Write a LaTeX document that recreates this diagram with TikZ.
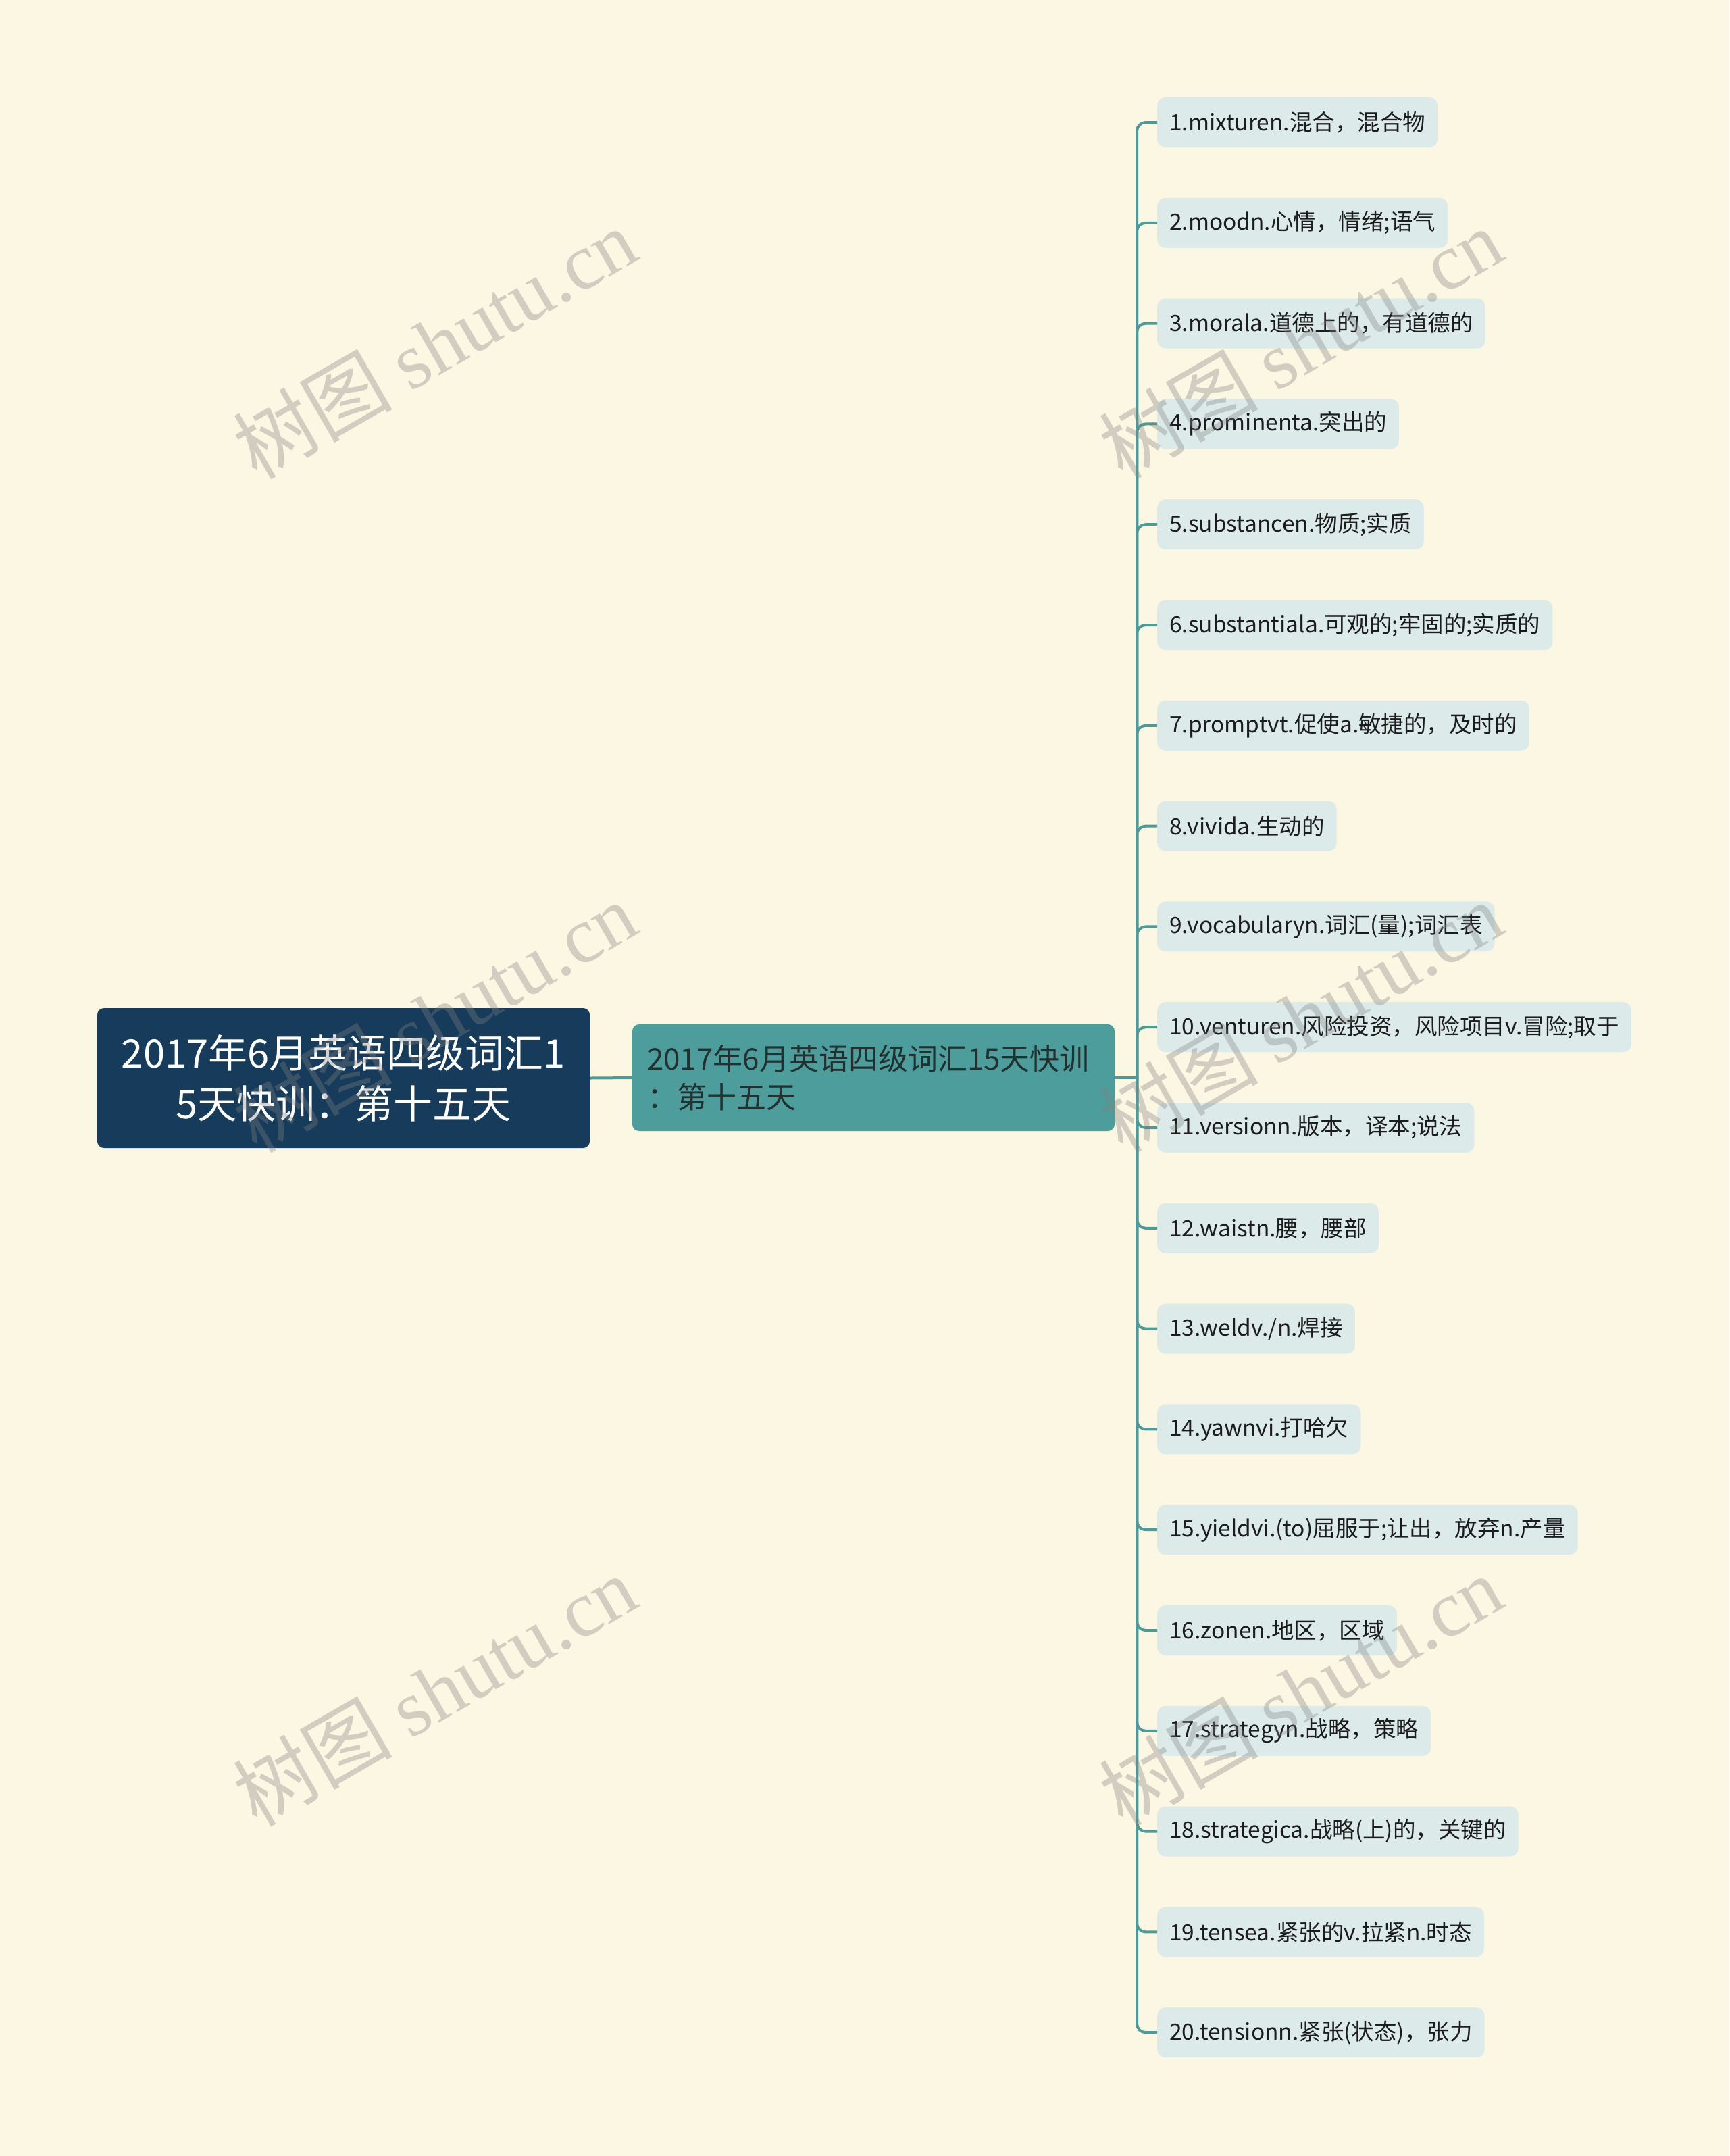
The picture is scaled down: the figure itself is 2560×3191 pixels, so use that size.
\documentclass[tikz,border=0pt]{standalone}
\usepackage{fontspec}
\setmainfont{Noto Sans CJK SC}
\newfontfamily\wmcjk{Noto Sans CJK SC}
\newfontfamily\wmlat{Liberation Serif}
\definecolor{bgc}{HTML}{FBF7E3}
\definecolor{rootc}{HTML}{173C5B}
\definecolor{midc}{HTML}{4D9D9C}
\definecolor{midtext}{HTML}{22302F}
\definecolor{leafc}{HTML}{DCEBEA}
\definecolor{leaftext}{HTML}{1C1C1C}
\definecolor{linec}{HTML}{4A9B99}
\tikzset{
  rootbox/.style={fill=rootc, rounded corners=10pt, text=white, align=center,
    minimum width=729pt, minimum height=207pt, inner sep=0pt,
    font=\fontsize{58}{75}\selectfont},
  midbox/.style={fill=midc, rounded corners=10pt, text=midtext, align=left,
    text width=670pt, minimum height=158pt, inner xsep=22pt, inner ysep=0pt,
    font=\fontsize{44}{57}\selectfont},
  leafbox/.style={fill=leafc, rounded corners=12pt, text=leaftext, anchor=west,
    minimum height=74pt, inner xsep=18pt, inner ysep=0pt,
    font=\fontsize{33.5}{38}\selectfont},
  conn/.style={draw=linec, line width=4pt},
  branch/.style={draw=linec, line width=4pt, rounded corners=13pt},
  wm/.style={rotate=30, text=gray, opacity=0.34, inner sep=0pt}
}
\begin{document}
\begin{tikzpicture}[x=1pt,y=-1pt]
\fill[bgc] (0,0) rectangle (2560,3191);
\useasboundingbox (0,0) rectangle (2560,3191);

\node[rootbox] (root) at (508.5,1595.5) {2017年6月英语四级词汇1\\5天快训：第十五天};
\node[midbox] (mid) at (1293,1595) {2017年6月英语四级词汇15天快训\\：第十五天};

\node[leafbox] (l1) at (1713,181) {1.mixturen.混合，混合物};
\node[leafbox] (l2) at (1713,329.8) {2.moodn.心情，情绪;语气};
\node[leafbox] (l3) at (1713,478.6) {3.morala.道德上的，有道德的};
\node[leafbox] (l4) at (1713,627.4) {4.prominenta.突出的};
\node[leafbox] (l5) at (1713,776.2) {5.substancen.物质;实质};
\node[leafbox] (l6) at (1713,925) {6.substantiala.可观的;牢固的;实质的};
\node[leafbox] (l7) at (1713,1073.8) {7.promptvt.促使a.敏捷的，及时的};
\node[leafbox] (l8) at (1713,1222.6) {8.vivida.生动的};
\node[leafbox] (l9) at (1713,1371.4) {9.vocabularyn.词汇(量);词汇表};
\node[leafbox] (l10) at (1713,1520.2) {10.venturen.风险投资，风险项目v.冒险;取于};
\node[leafbox] (l11) at (1713,1669) {11.versionn.版本，译本;说法};
\node[leafbox] (l12) at (1713,1817.8) {12.waistn.腰，腰部};
\node[leafbox] (l13) at (1713,1966.6) {13.weldv./n.焊接};
\node[leafbox] (l14) at (1713,2115.4) {14.yawnvi.打哈欠};
\node[leafbox] (l15) at (1713,2264.2) {15.yieldvi.(to)屈服于;让出，放弃n.产量};
\node[leafbox] (l16) at (1713,2413) {16.zonen.地区，区域};
\node[leafbox] (l17) at (1713,2561.8) {17.strategyn.战略，策略};
\node[leafbox] (l18) at (1713,2710.6) {18.strategica.战略(上)的，关键的};
\node[leafbox] (l19) at (1713,2859.4) {19.tensea.紧张的v.拉紧n.时态};
\node[leafbox] (l20) at (1713,3008.2) {20.tensionn.紧张(状态)，张力};

\coordinate (trunk) at (1683,1595);
\draw[conn] (root.east) -- (mid.west);
\draw[conn] (mid.east) -- (trunk);
\foreach \n in {l1,l2,l3,l4,l5,l6,l7,l8,l9,l10,l11,l12,l13,l14,l15,l16,l17,l18,l19,l20}
  \draw[branch] (trunk) |- (\n.west);

\foreach \cx in {643,1925}
  \foreach \cy in {508,1505,2502}
    \node[wm] (wm-\cx-\cy) at (\cx,\cy) {\fontsize{118}{118}\selectfont\wmcjk 树图 \wmlat shutu.cn};
\end{tikzpicture}
\end{document}
